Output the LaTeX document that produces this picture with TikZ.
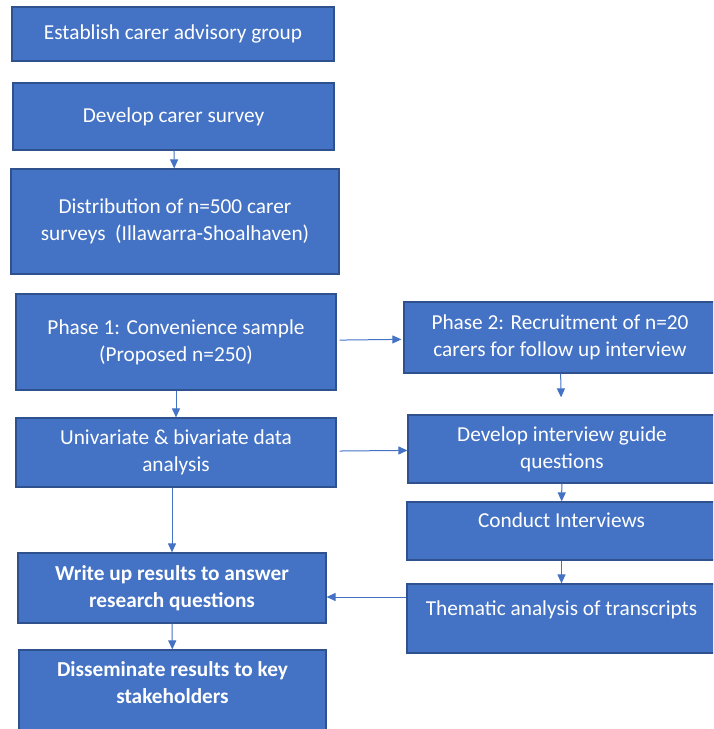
\documentclass[tikz,border=0pt]{standalone}
\usepackage{fontspec}
\setmainfont{Carlito}
\usepackage{tikz}
\usetikzlibrary{arrows.meta}
\definecolor{boxblue}{RGB}{68,114,196}
\definecolor{boxline}{RGB}{47,82,143}

\begin{document}
\begin{tikzpicture}[x=1pt,y=-1pt,
  box/.style={draw=boxline,line width=1.2pt,fill=boxblue,text=white,align=center,inner sep=0pt,
    font=\fontsize{21.3}{27}\selectfont},
  lifted/.style={text depth=#1},
  arr/.style={draw=boxblue,line width=1pt,->,>={Triangle[length=9pt,width=8pt]}}]
\clip (0,0) rectangle (713,729);
\node [box,minimum width=322,minimum height=54] (est) at (173,34) {Establish carer advisory group};
\node [box,minimum width=321,minimum height=67] (surv) at (173.5,116.5) {Develop carer survey};
\node [box,minimum width=328,minimum height=105] (dist) at (175,221.5) {Distribution of n=500 carer\\ surveys~ (Illawarra-Shoalhaven)};
\node [box,minimum width=320,minimum height=96] (ph1) at (176,342) {Phase 1: Convenience sample\\ (Proposed n=250)};
\node [box,minimum width=312,minimum height=71] (ph2) at (560,337.5) {Phase 2: Recruitment of n=20\\ carers for follow up interview};
\node [box,minimum width=320,minimum height=69] (uni) at (176,452.5) {Univariate \& bivariate data\\ analysis};
\node [box,minimum width=308,minimum height=68] (guide) at (562,449) {Develop interview guide\\ questions};
\node [box,lifted=21pt,minimum width=309,minimum height=58] (cond) at (561.5,531) {Conduct Interviews};
\node [box,lifted=21pt,minimum width=309,minimum height=69] (them) at (561.5,618.5) {Thematic analysis of transcripts};
\node [box,minimum width=308,minimum height=70,font=\fontsize{21.3}{27}\selectfont\bfseries] (wr) at (172,588) {Write up results to answer\\ research questions};
\node [box,minimum width=307,minimum height=86,font=\fontsize{21.3}{27}\selectfont\bfseries,lifted=20pt] (dis) at (172.5,693) {Disseminate results to key\\ stakeholders};
\draw [arr] (surv) -- (dist);
\draw [arr,shorten <=3pt,shorten >=2pt] (ph1) -- (ph2);
\draw [arr] (ph1) -- (uni);
\draw [arr,shorten <=3pt] (uni) -- (guide);
\draw [arr,shorten >=17pt] (ph2) -- (guide);
\draw [arr] (guide) -- (cond);
\draw [arr] (cond) -- (them);
\draw [arr] (wr.north |- uni.south) -- (wr.north);
\draw [arr] ([yshift=-9pt]wr.east -| them.west) -- ([yshift=-9pt]wr.east);
\draw [arr] (wr) -- (dis);
\end{tikzpicture}
\end{document}
